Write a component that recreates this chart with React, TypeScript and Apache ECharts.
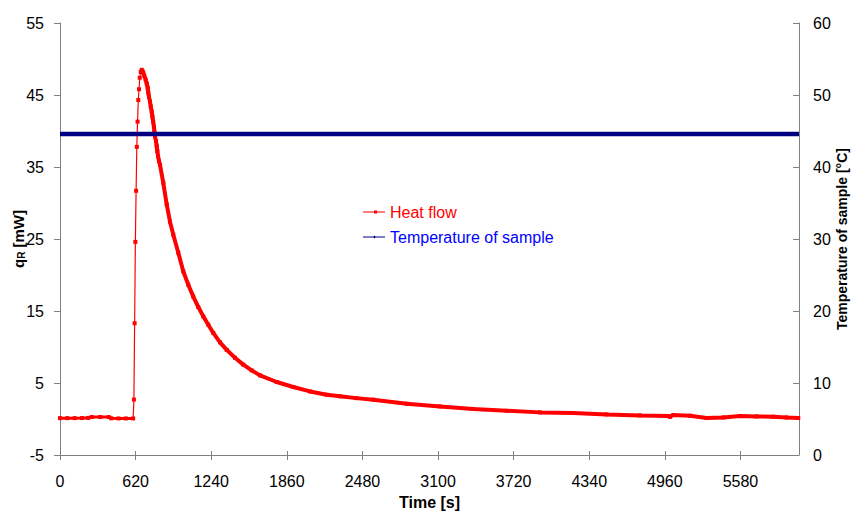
import React, { useEffect, useRef } from "react";
import * as echarts from "echarts";

// Heat flow q_R [mW] vs time [s]
const heatBaseline: [number, number][] = [
  [0, 0.12], [60, 0.12], [120, 0.12], [180, 0.13], [230, 0.15], [260, 0.27],
  [330, 0.28], [400, 0.27], [420, 0.1], [480, 0.08], [540, 0.08], [600, 0.08],
];
const heatRise: [number, number][] = [
  [600, 0.08], [606, 2.7], [612, 13.3], [618, 24.6], [624, 31.7], [630, 37.8],
  [636, 41.3], [642, 44.3], [648, 45.8], [654, 47.4], [662, 48.2], [670, 48.5],
];
const heatDecay: [number, number][] = [
  [670, 48.5], [677, 48.3], [683, 48.06], [691, 47.7], [703, 47.1], [711, 46.6],
  [719, 46.0], [724, 45.3], [730, 44.7], [738, 44.1], [744, 43.4], [752, 42.7],
  [758, 42.0], [764, 41.3], [770, 40.6], [774, 39.9], [779, 39.25], [787, 38.6],
  [793, 37.9], [798, 37.2], [804, 36.5], [812, 35.8], [820, 35.3], [847, 32.8],
  [875, 29.8], [902, 27.4], [929, 25.6], [970, 23.1], [1011, 20.5], [1052, 18.65],
  [1093, 17.0], [1134, 15.55], [1175, 14.25], [1216, 13.1], [1257, 11.95],
  [1312, 10.65], [1367, 9.6], [1435, 8.5], [1503, 7.55], [1572, 6.75], [1640, 6.06],
  [1777, 5.14], [1913, 4.44], [2050, 3.83], [2187, 3.38], [2296, 3.15], [2430, 2.9],
  [2569, 2.68], [2843, 2.13], [3116, 1.75], [3389, 1.39], [3663, 1.15], [3936, 0.92],
  [4209, 0.83], [4483, 0.64], [4756, 0.5], [4990, 0.42], [5002, 0.3], [5029, 0.55],
  [5166, 0.46], [5302, 0.14], [5439, 0.22], [5576, 0.42], [5712, 0.36], [5849, 0.32],
  [5958, 0.22], [6054, 0.14],
];

// Temperature of sample [°C] vs time [s]
const temperatureTimes = [0, 620, 1240, 1860, 2480, 3100, 3720, 4340, 4960, 5580, 6060];
const temperatureValues = [44.6, 44.6, 44.6, 44.6, 44.6, 44.6, 44.6, 44.6, 44.6, 44.6, 44.6];

const FONT = "'Liberation Sans', Arial, sans-serif";
const AXIS_GRAY = "#808080";

export default function App() {
  const ref = useRef<HTMLDivElement>(null);

  useEffect(() => {
    if (!ref.current) return;
    const chart = echarts.init(ref.current, undefined, { renderer: "svg" });
    const heatAll = [...heatBaseline, ...heatRise.slice(1), ...heatDecay.slice(1)];
    const temperature = temperatureTimes.map((t, i) => [t, temperatureValues[i]]);

    chart.setOption({
      animation: false,
      backgroundColor: "#ffffff",
      textStyle: { fontFamily: FONT },
      grid: {
        left: 60,
        right: 54,
        top: 23,
        bottom: 64,
        containLabel: false,
        outerBoundsMode: "none",
      },
      legend: {
        orient: "vertical",
        left: 358,
        top: 199,
        padding: 5,
        itemWidth: 22,
        itemHeight: 3,
        itemGap: 9,
        textStyle: { fontSize: 16, fontFamily: FONT },
        data: [
          {
            name: "Heat flow",
            icon: "path://M0,1h22v1h-22z M11,0h3v3h-3z",
            textStyle: { color: "#ff0000" },
          },
          {
            name: "Temperature of sample",
            icon: "path://M0,1h22v1h-22z M11.5,0l1.5,1.5l-1.5,1.5l-1.5,-1.5z",
            textStyle: { color: "#0000ff" },
          },
        ],
      },
      xAxis: [
        {
          type: "value",
          min: 0,
          max: 6060,
          interval: 620,
          position: "bottom",
          name: "Time [s]",
          nameLocation: "middle",
          nameGap: 39,
          nameMoveOverlap: false,
          nameTextStyle: { fontSize: 16, fontWeight: "bold", color: "#000", fontFamily: FONT },
          axisLine: { show: true, onZero: false, lineStyle: { color: AXIS_GRAY, width: 1 } },
          axisTick: { show: true, inside: false, length: 5, lineStyle: { color: AXIS_GRAY } },
          axisLabel: {
            fontSize: 16,
            color: "#000",
            margin: 18,
            showMaxLabel: false,
            formatter: (v: number) => (v % 620 === 0 ? String(v) : ""),
          },
          splitLine: { show: false },
        },
        {
          type: "value",
          min: 0,
          max: 6060,
          interval: 620,
          position: "bottom",
          axisLine: { show: false, onZero: false },
          axisTick: { show: true, inside: true, length: 4, lineStyle: { color: AXIS_GRAY } },
          axisLabel: { show: false },
          splitLine: { show: false },
        },
      ],
      yAxis: [
        {
          type: "value",
          min: -5,
          max: 55,
          interval: 10,
          position: "left",
          name: "{b|q}{s|R}{b| [mW]}",
          nameLocation: "middle",
          nameRotate: 90,
          nameGap: 34,
          nameMoveOverlap: false,
          nameTextStyle: {
            color: "#000",
            rich: {
              b: { fontSize: 15, fontWeight: "bold", color: "#000", fontFamily: FONT, verticalAlign: "bottom", lineHeight: 18 },
              s: { fontSize: 10, fontWeight: "bold", color: "#000", fontFamily: FONT, verticalAlign: "bottom", lineHeight: 14 },
            },
          },
          axisLine: { show: true, onZero: false, lineStyle: { color: AXIS_GRAY, width: 1 } },
          axisTick: { show: true, inside: false, length: 6, lineStyle: { color: AXIS_GRAY } },
          axisLabel: { fontSize: 16, color: "#000", margin: 16 },
          splitLine: { show: false },
        },
        {
          type: "value",
          min: 0,
          max: 60,
          interval: 10,
          position: "right",
          name: "Temperature of sample [°C]",
          nameLocation: "middle",
          nameRotate: 90,
          nameGap: 36,
          nameMoveOverlap: false,
          nameTextStyle: { fontSize: 14, fontWeight: "bold", color: "#000", fontFamily: FONT },
          axisLine: { show: true, onZero: false, lineStyle: { color: AXIS_GRAY, width: 1 } },
          axisTick: { show: true, inside: true, length: 6, lineStyle: { color: AXIS_GRAY } },
          axisLabel: { fontSize: 16, color: "#000", margin: 14 },
          splitLine: { show: false },
        },
      ],
      series: [
        {
          name: "Heat flow",
          type: "line",
          xAxisIndex: 0,
          yAxisIndex: 0,
          data: heatBaseline,
          showSymbol: false,
          color: "#ff0000",
          lineStyle: { color: "#ff0000", width: 3 },
          z: 2,
        },
        {
          name: "Heat flow",
          type: "line",
          xAxisIndex: 0,
          yAxisIndex: 0,
          data: heatDecay,
          showSymbol: false,
          color: "#ff0000",
          lineStyle: { color: "#ff0000", width: 4 },
          z: 2,
        },
        {
          name: "Heat flow",
          type: "line",
          xAxisIndex: 0,
          yAxisIndex: 0,
          data: heatAll,
          symbol: "rect",
          symbolSize: 4,
          showAllSymbol: true,
          color: "#ff0000",
          itemStyle: { color: "#ff0000" },
          lineStyle: { color: "#ff0000", width: 1.2 },
          z: 3,
        },
        {
          name: "Temperature of sample",
          type: "line",
          xAxisIndex: 0,
          yAxisIndex: 1,
          data: temperature,
          showSymbol: false,
          color: "#000080",
          lineStyle: { color: "#000080", width: 4.5 },
          z: 4,
        },
      ],
    });

    return () => chart.dispose();
  }, []);

  return (
    <div
      ref={ref}
      style={{ position: "fixed", left: 0, top: 0, width: 853, height: 519, background: "#fff" }}
    />
  );
}
